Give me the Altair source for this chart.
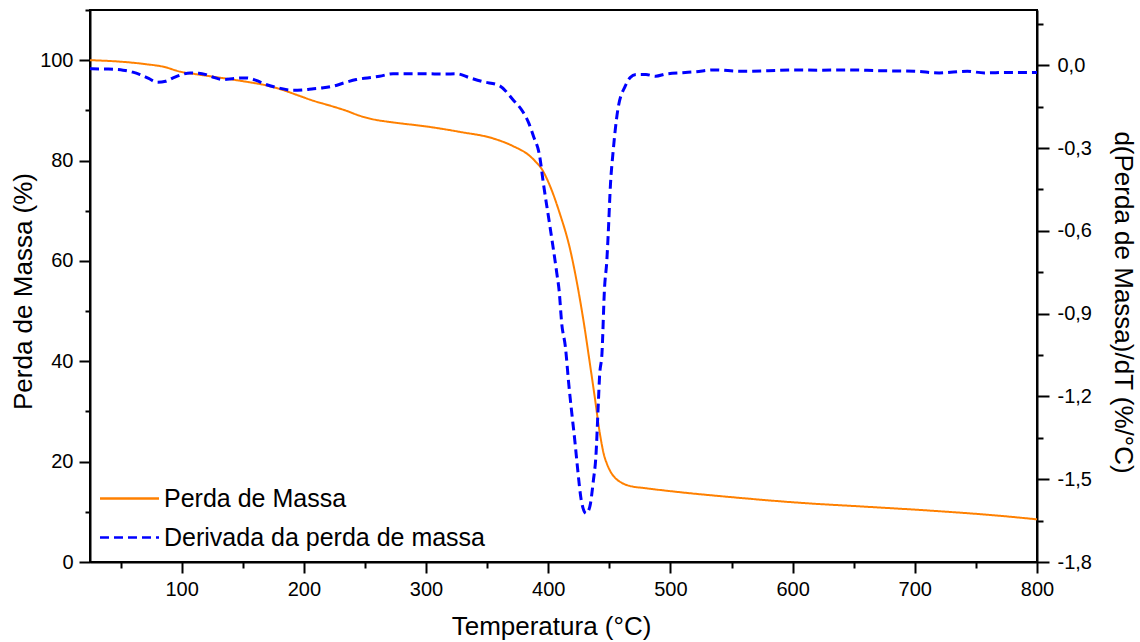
import altair as alt
import pandas as pd

# ---- data ----
T_massa = [25, 50, 71, 85, 99, 112, 126, 140, 153, 167, 181, 194, 208, 222, 235, 246, 257,
           273, 300, 328, 355, 371, 385, 390, 395, 401, 409, 418, 424, 430, 434, 438, 442,
           446, 448, 451, 455, 460, 466, 480, 497, 551, 606, 661, 715, 770, 800]
massa = [100.0, 99.7, 99.2, 98.7, 97.7, 97.2, 96.7, 96.2, 95.7, 95.1, 94.2, 93.1, 91.9, 90.9,
         89.9, 88.9, 88.2, 87.6, 86.8, 85.7, 84.4, 82.9, 80.9, 79.7, 78.2, 75.2, 69.8, 62.2,
         55.0, 46.3, 39.7, 33.0, 26.0, 21.0, 19.6, 18.0, 16.7, 15.8, 15.2, 14.7, 14.2, 12.9,
         11.8, 11.0, 10.2, 9.2, 8.5]

T_deriv = [25, 27, 40, 52, 60, 66, 73, 80, 87, 93, 100, 107, 114, 120, 127, 134, 143, 153,
           161, 169, 180, 191, 200, 208, 216, 224, 233, 243, 252, 262, 273, 288, 300, 315,
           325, 336, 347, 360, 371, 379, 384, 388, 393, 396, 401, 407, 409, 411, 414, 417,
           419, 422, 424, 427, 431, 434, 437, 439, 441, 442, 444, 446, 448, 449, 451, 453,
           457, 463, 467, 472, 480, 488, 496, 510, 520, 536, 558, 580, 601, 620, 644, 672,
           700, 720, 743, 757, 775, 800]
deriv = [-0.012, -0.013, -0.014, -0.018, -0.025, -0.034, -0.048, -0.062, -0.058, -0.046,
         -0.034, -0.028, -0.029, -0.034, -0.045, -0.052, -0.048, -0.046, -0.055, -0.070,
         -0.083, -0.091, -0.089, -0.085, -0.082, -0.076, -0.064, -0.052, -0.046, -0.040,
         -0.031, -0.031, -0.031, -0.032, -0.031, -0.046, -0.060, -0.074, -0.124, -0.167,
         -0.209, -0.258, -0.330, -0.427, -0.572, -0.753, -0.820, -0.934, -1.019, -1.164,
         -1.249, -1.370, -1.460, -1.575, -1.624, -1.600, -1.503, -1.418, -1.225, -1.128,
         -1.043, -0.814, -0.705, -0.620, -0.427, -0.318, -0.160, -0.076, -0.045, -0.034,
         -0.034, -0.040, -0.032, -0.027, -0.024, -0.017, -0.022, -0.020, -0.017, -0.018,
         -0.017, -0.020, -0.022, -0.028, -0.022, -0.028, -0.026, -0.026]

series = ["Perda de Massa", "Derivada da perda de massa"]
colors = ["#FF8000", "#0000FF"]
x_ticks = list(range(50, 801, 50))
left_ticks = list(range(0, 111, 10))
right_ticks = [-1.8, -1.65, -1.5, -1.35, -1.2, -1.05, -0.9, -0.75, -0.6, -0.45, -0.3, -0.15, 0.0, 0.15]

FONT = "Liberation Sans"

df_m = pd.DataFrame({"T": T_massa, "v": massa, "serie": series[0]})
df_d = pd.DataFrame({"T": T_deriv, "v": deriv, "serie": series[1]})

common = dict(
    domainColor="black", domainWidth=2, tickColor="black", tickWidth=2,
    labelFont=FONT, labelFontSize=20, labelColor="black", labelFlush=False, labelOverlap=False,
    titleFont=FONT, titleFontSize=26, titleFontWeight="normal", titleColor="black", grid=False,
)

x_axis = alt.Axis(
    orient="bottom", values=x_ticks,
    labelExpr="datum.value % 100 === 0 ? datum.label : ''",
    tickSize={"condition": {"test": "datum.value % 100 === 0", "value": 11}, "value": 6},
    labelPadding=6,
    title="Temperatura (°C)", titleX=461, titleY=72, titleAlign="center", titleBaseline="alphabetic",
    **common,
)
x_enc = alt.X("T:Q", scale=alt.Scale(domain=[25, 800], nice=False, zero=False), axis=x_axis)

# wide horizontal-line symbol (3x the nominal symbol width) so rows can stay 40 px apart
leg = alt.Legend(
    orient="none", legendX=27, legendY=476, title="", symbolType="M-3,0H3", symbolSize=387,
    symbolStrokeWidth=2.5, labelFont=FONT, labelFontSize=25, labelColor="black",
    labelLimit=0, rowPadding=13, padding=0, labelOffset=22,
)
color = alt.Color("serie:N", scale=alt.Scale(domain=series, range=colors), legend=leg)
dash = alt.StrokeDash("serie:N", scale=alt.Scale(domain=series, range=[[1, 0], [9, 5]]), legend=leg)

left_axis = alt.Axis(
    orient="left", values=left_ticks,
    labelExpr="datum.value % 20 === 0 ? datum.label : ''",
    tickSize={"condition": {"test": "datum.value % 20 === 0", "value": 11}, "value": 5},
    labelPadding=6,
    title="Perda de Massa (%)", titleAngle=270, titleX=-67, titleY=281,
    titleAlign="center", titleBaseline="middle",
    **common,
)
right_axis = alt.Axis(
    orient="right", values=right_ticks,
    labelExpr="abs(datum.value*10/3 - round(datum.value*10/3)) < 0.01 ? replace(replace(format(datum.value, '.1f'), '.', ','), '\u2212', '-') : ''",
    tickSize={"condition": {"test": "abs(datum.value*10/3 - round(datum.value*10/3)) < 0.01", "value": 12}, "value": 6},
    labelPadding=8,
    title="d(Perda de Massa)/dT (%/°C)", titleAngle=90, titleX=85, titleY=292,
    titleAlign="center", titleBaseline="middle",
    **common,
)

massa_line = alt.Chart(df_m).mark_line(strokeWidth=2, interpolate="monotone").encode(
    x=x_enc,
    y=alt.Y("v:Q", scale=alt.Scale(domain=[0, 110], nice=False, zero=False), axis=left_axis),
    color=color, strokeDash=dash,
)
deriv_line = alt.Chart(df_d).mark_line(strokeWidth=3, interpolate="monotone").encode(
    x=x_enc,
    y=alt.Y("v:Q", scale=alt.Scale(domain=[-1.8, 0.2], nice=False, zero=False), axis=right_axis),
    color=color, strokeDash=dash,
)

chart = alt.layer(massa_line, deriv_line).resolve_scale(y="independent").properties(
    width=947, height=552,
    autosize=alt.AutoSizeParams(type="none"),
    padding={"left": 90, "top": 10, "right": 103, "bottom": 80},
    background="white",
).configure_view(stroke="black", strokeWidth=2)

chart.save("out.html", embed_options={"renderer": "svg", "actions": False})
